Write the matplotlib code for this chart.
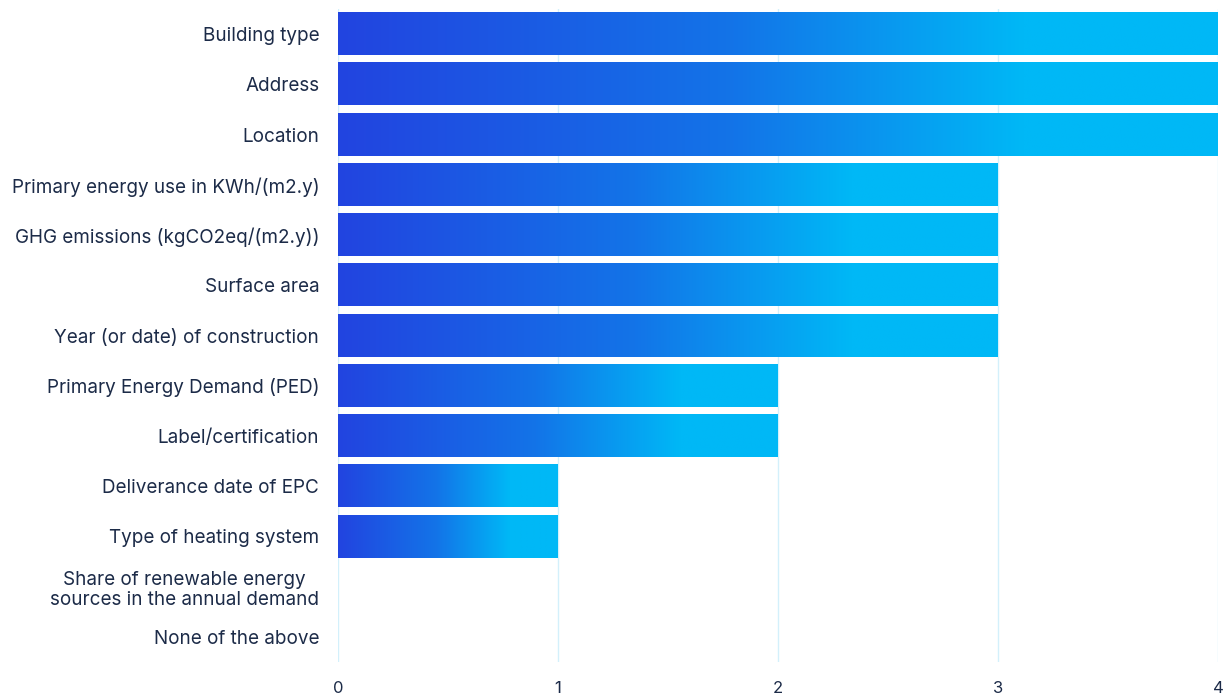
import numpy as np
import matplotlib.pyplot as plt
from matplotlib.colors import LinearSegmentedColormap

categories = [
    "Building type",
    "Address",
    "Location",
    "Primary energy use in KWh/(m2.y)",
    "GHG emissions (kgCO2eq/(m2.y))",
    "Surface area",
    "Year (or date) of construction",
    "Primary Energy Demand (PED)",
    "Label/certification",
    "Deliverance date of EPC",
    "Type of heating system",
    "Share of renewable energy\nsources in the annual demand",
    "None of the above",
]
counts = [4, 4, 4, 3, 3, 3, 3, 2, 2, 1, 1, 0, 0]
x_ticks = [0, 1, 2, 3, 4]

text_color = "#1c2b48"
grid_color = "#d3f0fb"
cmap = LinearSegmentedColormap.from_list(
    "bar_grad", [(0, "#2244e0"), (0.45, "#1374e8"), (0.78, "#00b8f6"), (1, "#00b8f6")])

plt.rcParams['font.family'] = ['Inter', 'DejaVu Sans']

fig = plt.figure(figsize=(12.24, 6.95), dpi=100)
ax = fig.add_axes([338 / 1224, 33 / 695, 880 / 1224, 653 / 695])

bar_h = 0.84
grad = cmap(np.linspace(0, 1, 256))[np.newaxis, :, :]
for i, v in enumerate(counts):
    if v <= 0:
        continue
    ax.imshow(grad, extent=[0, v, i + bar_h / 2, i - bar_h / 2],
              aspect='auto', interpolation='bilinear', zorder=2)

ax.set_xlim(0, 4)
ax.set_ylim(len(categories) - 0.5, -0.5)
ax.set_xticks(x_ticks)
ax.set_yticks(range(len(categories)))
ax.set_yticklabels(categories, fontsize=13.6, color=text_color,
                   multialignment='center', linespacing=1.15)
ax.set_xticklabels([str(t) for t in x_ticks], fontsize=12, color=text_color)
ax.tick_params(axis='both', length=0)
ax.tick_params(axis='y', pad=13.5)
ax.tick_params(axis='x', pad=14)
ax.grid(axis='x', color=grid_color, linewidth=1, zorder=0)
ax.set_axisbelow(True)
for s in ax.spines.values():
    s.set_visible(False)

fig.savefig("out.png", dpi=100)
